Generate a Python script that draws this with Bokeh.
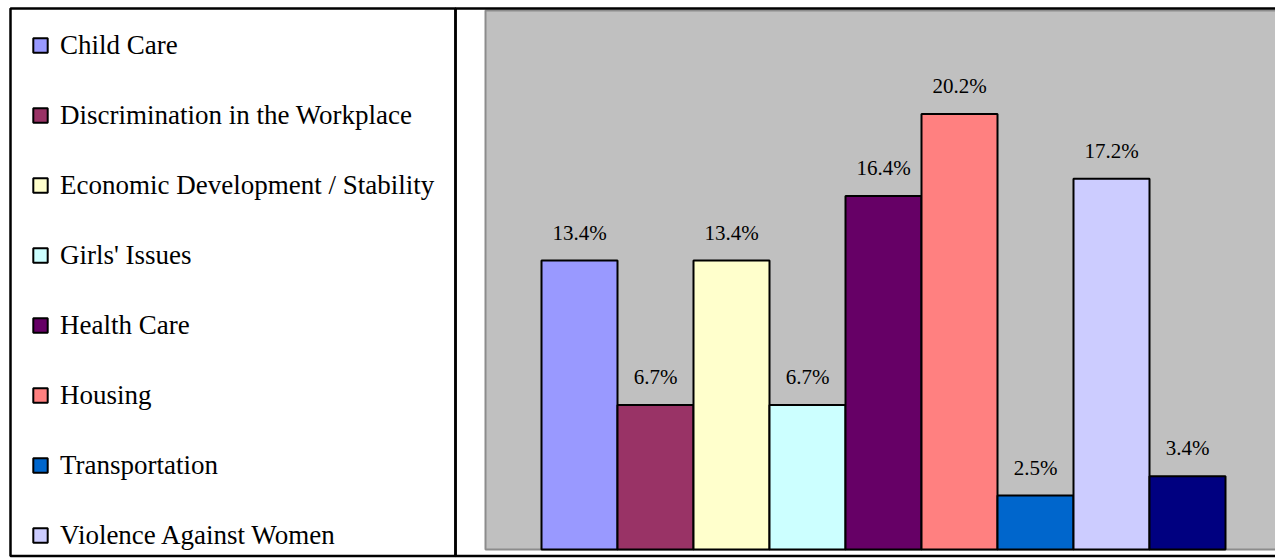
from bokeh.plotting import figure
from bokeh.models import ColumnDataSource, Range1d, Legend, LegendItem, BoxAnnotation
from bokeh.core.properties import value
from bokeh.embed import file_html
from bokeh.resources import INLINE

# ---- data ----
categories = ["Child Care", "Discrimination in the Workplace", "Economic Development / Stability",
              "Girls' Issues", "Health Care", "Housing", "Transportation",
              "Violence Against Women", "Other"]
shares = [13.4, 6.7, 13.4, 6.7, 16.4, 20.2, 2.5, 17.2, 3.4]
colors = ["#9999FF", "#993366", "#FFFFCC", "#CCFFFF", "#660066", "#FF8080",
          "#0066CC", "#CCCCFF", "#000080"]
legend_count = 8  # only the first eight categories appear in the legend
axis_max = 25     # value axis maximum (%)

# ---- layout constants (canvas pixels) ----
W, H = 1275, 558
BAR_PX = 76            # width of one bar
FIRST_CENTER = 579     # canvas x of first bar centre
BASELINE = 549         # canvas y of 0 %
PX_PER_PCT = 21.56
GAP_BARS = 56 / BAR_PX # gap between plot-area edge and first bar, in bar widths

x0 = -FIRST_CENTER / BAR_PX
x1 = (W - FIRST_CENTER) / BAR_PX
y0 = -(H - BASELINE) / PX_PER_PCT
y1 = BASELINE / PX_PER_PCT

def xd(cx):
    return x0 + cx / BAR_PX

def yd(cy):
    return y1 - cy / PX_PER_PCT

src = ColumnDataSource(dict(
    x=list(range(len(shares))),
    share=shares,
    color=colors,
    label=[f"{v:.1f}%" for v in shares],
    cat=categories,
))

p = figure(width=W, height=H, x_range=Range1d(x0, x1), y_range=Range1d(y0, y1),
           output_backend="svg", toolbar_location=None,
           x_axis_location=None, y_axis_location=None,
           min_border=0, outline_line_color=None,
           background_fill_color="white", border_fill_color="white")
p.grid.grid_line_color = None

# plot area (grey)
plot_area = BoxAnnotation(left=-0.5 - GAP_BARS, right=xd(W + 20), bottom=0, top=axis_max,
                          fill_color="#C0C0C0", fill_alpha=1.0,
                          line_color="#8C8C8C", line_alpha=1.0, line_width=2, level="underlay")
p.add_layout(plot_area)

bars = p.vbar(x="x", top="share", bottom=0, width=1.0, source=src,
              fill_color="color", line_color="black", line_width=2)

p.text(x="x", y="share", text="label", source=src,
       text_align="center", text_baseline="alphabetic", y_offset=-28,
       text_font=value("Liberation Serif"), text_font_size="21px", text_color="black")

# outer frame: legend box and chart box
for left, right in [(10, 455), (455, W + 20)]:
    p.add_layout(BoxAnnotation(left=xd(left), right=xd(right), top=yd(8), bottom=yd(555.5),
                               fill_alpha=0, line_color="black", line_alpha=1.0, line_width=2.5,
                               level="overlay"))

legend = Legend(
    items=[LegendItem(label=categories[i], renderers=[bars], index=i) for i in range(legend_count)],
    location=(31, 7), margin=0, padding=5, spacing=38,
    glyph_width=18, glyph_height=18, label_height=32, label_standoff=11,
    label_text_font="Liberation Serif", label_text_font_size="27px",
    label_text_color="black",
    border_line_color=None, background_fill_alpha=0,
)
p.add_layout(legend)

open("out.html", "w").write(file_html(p, INLINE))
